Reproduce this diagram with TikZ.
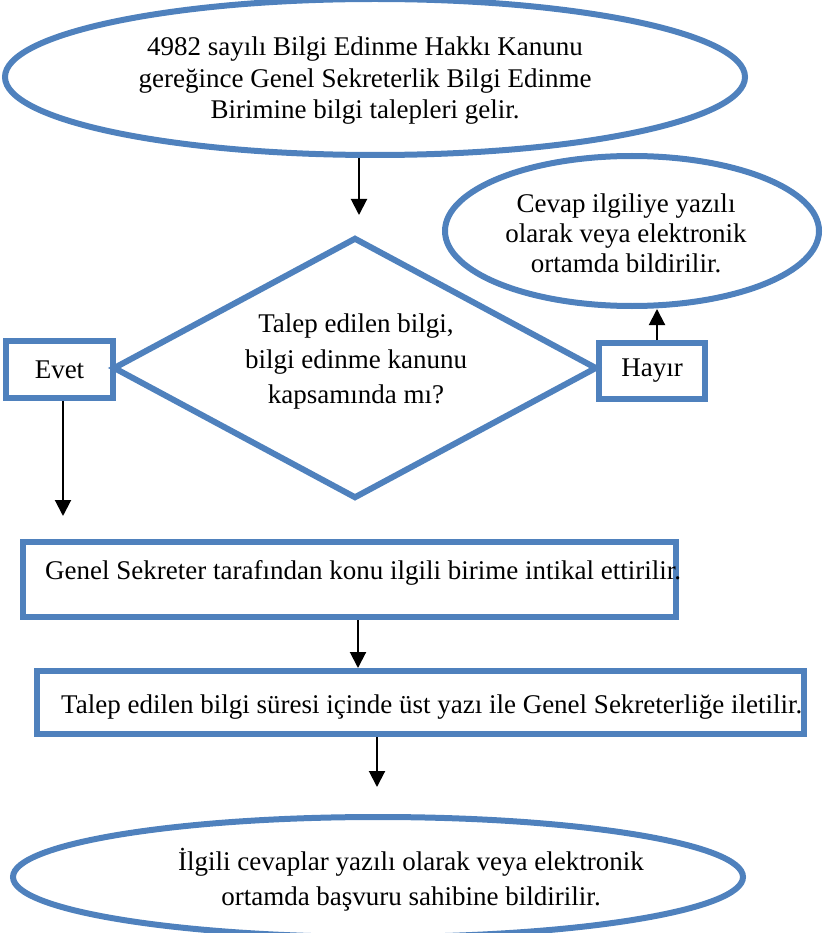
\documentclass[tikz,border=0pt]{standalone}
\usepackage{fontspec}
\setmainfont{Liberation Serif}
\usetikzlibrary{shapes.geometric,arrows.meta}
\definecolor{flowblue}{HTML}{4F81BD}
\begin{document}
\begin{tikzpicture}[x=1pt,y=-1pt,
  shapeline/.style={draw=flowblue,line width=6pt,inner sep=0pt},
  oval/.style={shapeline,ellipse},
  boxnode/.style={shapeline,rectangle},
  txt/.style={align=center,inner sep=0pt},
  arr/.style={draw=black,line width=2pt,-{Triangle[width=16pt,length=16pt]}}]
\useasboundingbox (0,0) rectangle (824,933);

% top ellipse
\node[oval,minimum width=740pt,minimum height=156pt] (e1) at (375,77) {};
\node[txt,font=\fontsize{27}{31.5}\selectfont] (t1) at (365,81)
  {4982 sayılı Bilgi Edinme Hakkı Kanunu\\gereğince Genel Sekreterlik Bilgi Edinme\\Birimine bilgi talepleri gelir.};

% right ellipse
\node[oval,minimum width=374pt,minimum height=150pt] (e2) at (632,231) {};
\node[txt,font=\fontsize{27}{30}\selectfont] (t2) at (626,233)
  {Cevap ilgiliye yazılı\\olarak veya elektronik\\ortamda bildirilir.};

% decision
\node[shapeline,diamond,aspect=1.86,minimum width=484pt,minimum height=261pt] (q) at (355,368) {};
\node[txt,font=\fontsize{27}{35.5}\selectfont] (t3) at (356,362)
  {Talep edilen bilgi,\\bilgi edinme kanunu\\kapsamında mı?};

\node[boxnode,minimum width=107pt,minimum height=57pt,font=\fontsize{27}{30}\selectfont] (evet) at (59.5,369.5) {Evet};
\node[boxnode,minimum width=106pt,minimum height=56pt,font=\fontsize{27}{30}\selectfont] (hayir) at (652,371) {Hayır};

% process boxes
\node[boxnode,minimum width=653pt,minimum height=75pt] (b1) at (349.5,579.5) {};
\node[txt,anchor=west,font=\fontsize{27}{30}\selectfont] (t4) at (45,573)
  {Genel Sekreter tarafından konu ilgili birime intikal ettirilir.};

\node[boxnode,minimum width=767pt,minimum height=63pt] (b2) at (420.5,702.5) {};
\node[txt,anchor=west,font=\fontsize{27}{30}\selectfont] (t5) at (61,707)
  {Talep edilen bilgi süresi içinde üst yazı ile Genel Sekreterliğe iletilir.};

% bottom ellipse
\node[oval,minimum width=730pt,minimum height=120pt] (e3) at (378,877) {};
\node[txt,font=\fontsize{27}{35}\selectfont] (t6) at (411,879.5)
  {İlgili cevaplar yazılı olarak veya elektronik\\ortamda başvuru sahibine bildirilir.};

% connectors
\coordinate (a1) at (359,215);
\coordinate (a2) at (63,516);
\coordinate (a3) at (657,309);
\coordinate (a4) at (358,668);
\coordinate (a5) at (377,787);
\draw[arr] (e1.south -| a1) -- (a1);
\draw[arr] (evet.south -| a2) -- (a2);
\draw[arr] (hayir.north -| a3) -- (a3);
\draw[arr] (b1.south -| a4) -- (a4);
\draw[arr] (b2.south -| a5) -- (a5);
\end{tikzpicture}
\end{document}
